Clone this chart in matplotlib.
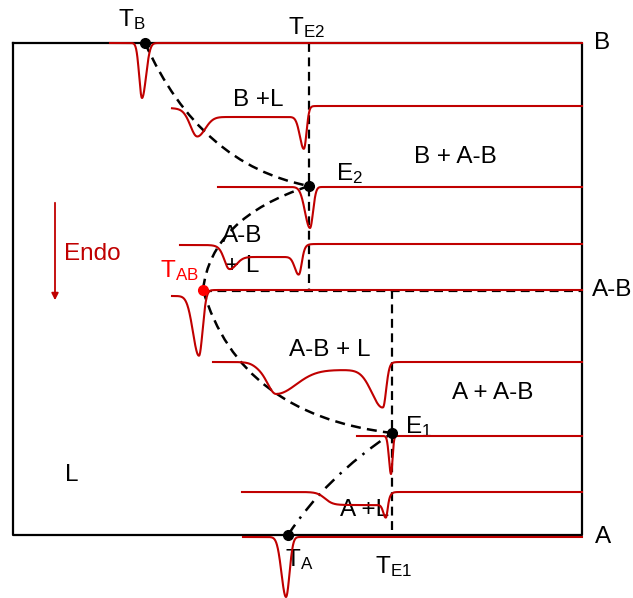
import numpy as np
import matplotlib
matplotlib.use("Agg")
import matplotlib.pyplot as plt
from matplotlib.path import Path
from matplotlib.patches import PathPatch, FancyArrowPatch

plt.rcParams['font.family'] = ['Liberation Sans', 'DejaVu Sans']
plt.rcParams['mathtext.fontset'] = 'custom'
plt.rcParams['mathtext.rm'] = 'Liberation Sans'
plt.rcParams['mathtext.it'] = 'Liberation Sans'

# ---------------------------------------------------------
# diagram geometry (pixel units, y grows downward)
# ---------------------------------------------------------
frame_x = [13, 582]
frame_y = [43, 535]
te2_x, te1_x = 309, 392
ab_y = 290

# invariant points: name -> (x, y)
pt_tb = (145, 43)
pt_e2 = (309, 186)
pt_tab = (203, 290)
pt_e1 = (392, 433)
pt_ta = (288, 535)

# liquidus curves as quadratic beziers: start, control, end
liq_b = [pt_tb, (200, 165), pt_e2]
liq_ab_upper = [pt_e2, (211, 218), pt_tab]
liq_ab_lower = [pt_tab, (240, 415), pt_e1]
liq_a = [pt_ta, (325, 478), pt_e1]

# ---------------------------------------------------------
# DTA traces: baseline, start x, steps (x, height, width),
# peaks (x, depth, left width, right width)
# ---------------------------------------------------------
dta_base = [43, 108, 187, 245, 296, 362, 436, 492, 537]
dta_start = [110, 172, 218, 180, 172, 213, 357, 242, 243]
dta_steps = [
    [],
    [(186, 9, 4), (307, -11, 1.5)],
    [],
    [(222, 12, 3), (303, -13, 2)],
    [(205, -6, 2)],
    [(255, 8, 4), (388, -8, 2)],
    [],
    [(325, 13, 4), (389, -13, 1.5)],
    [],
]
dta_peaks = [
    [(142, 55, 2.8, 4)],
    [(197, 20, 6, 8), (304, 33, 4, 2.5)],
    [(310, 41, 5, 3)],
    [(229, 13, 4, 7), (299, 19, 4, 2.5)],
    [(199, 60, 6, 3.5)],
    [(276, 24, 8, 20), (383, 38, 11, 3)],
    [(391, 38, 2, 1.5)],
    [(386, 14, 2.5, 1.5)],
    [(286, 60, 4.5, 3.5)],
]

# text labels: (x, y, text)
phase_labels = [
    (258, 100, 'B +L'),
    (455, 157, 'B + A-B'),
    (242, 236, 'A-B'),
    (242, 266, '+ L'),
    (330, 350, 'A-B + L'),
    (493, 393, 'A + A-B'),
    (365, 510, 'A +L'),
    (72, 475, 'L'),
]
side_labels = [(602, 43, 'B'), (612, 290, 'A-B'), (603, 537, 'A')]
point_labels = [
    (132, 20, r'$\mathrm{T_B}$'),
    (306, 28, r'$\mathrm{T_{E2}}$'),
    (350, 174, r'$\mathrm{E_2}$'),
    (419, 427, r'$\mathrm{E_1}$'),
    (299, 560, r'$\mathrm{T_A}$'),
    (393, 567, r'$\mathrm{T_{E1}}$'),
]

dark_red = '#c00000'
fs = 17.5

fig = plt.figure(figsize=(6.33, 5.98), dpi=100)
ax = fig.add_axes([0, 0, 1, 1])
ax.set_xlim(0, 633)
ax.set_ylim(598, 0)
ax.axis('off')

# frame
ax.plot([frame_x[0], frame_x[1], frame_x[1], frame_x[0], frame_x[0]],
        [frame_y[0], frame_y[0], frame_y[1], frame_y[1], frame_y[0]],
        color='black', lw=1.6, zorder=2)

# eutectic / peritectic isotherm lines
ax.plot([te2_x, te2_x], [frame_y[0], ab_y], color='black', lw=1.6,
        ls=(0, (4, 2.5)), zorder=2)
ax.plot([te1_x, te1_x], [ab_y, frame_y[1]], color='black', lw=1.6,
        ls=(0, (4, 2.5)), zorder=2)
ax.plot([pt_tab[0], frame_x[1]], [ab_y + 1, ab_y + 1], color='black', lw=1.6,
        ls=(0, (4, 2.5)), zorder=2)


def bezier(pts, style):
    path = Path(pts, [Path.MOVETO, Path.CURVE3, Path.CURVE3])
    ax.add_patch(PathPatch(path, fill=False, color='black', lw=1.8,
                           ls=style, zorder=3))


bezier(liq_b, (0, (4, 2.5)))
bezier(liq_ab_upper, (0, (4, 2.5)))
bezier(liq_ab_lower, (0, (4, 2.5)))
bezier(liq_a, (0, (5, 3, 1, 3)))

# DTA traces
for y0, xs, steps, peaks in zip(dta_base, dta_start, dta_steps, dta_peaks):
    x = np.linspace(xs, frame_x[1], 1500)
    y = np.full_like(x, float(y0))
    for c, h, w in steps:
        y += h / (1 + np.exp(-(x - c) / w))
    for c, d, wl, wr in peaks:
        w = np.where(x < c, wl, wr)
        y += d * np.exp(-0.5 * ((x - c) / w) ** 2)
    ax.plot(x, y, color=dark_red, lw=1.5, zorder=4)

# invariant points
for p in [pt_tb, pt_e2, pt_e1, pt_ta]:
    ax.plot(*p, 'o', color='black', ms=7, zorder=5)
ax.plot(*pt_tab, 'o', color='#ff0000', ms=7, zorder=5)

for x, y, s in phase_labels + side_labels:
    ax.text(x, y, s, fontsize=fs, ha='center', va='center')
for x, y, s in point_labels:
    ax.text(x, y, s, fontsize=fs, ha='center', va='center')
ax.text(179, 271, r'$\mathrm{T_{AB}}$', fontsize=fs, color='#ff0000',
        ha='center', va='center')

# endothermic direction arrow
ax.add_patch(FancyArrowPatch((55, 200), (55, 303), arrowstyle='-|>',
                             mutation_scale=10, color=dark_red, lw=1.3))
ax.text(64, 254, 'Endo', fontsize=fs, color=dark_red, ha='left', va='center')

fig.savefig('out.png', dpi=100)
